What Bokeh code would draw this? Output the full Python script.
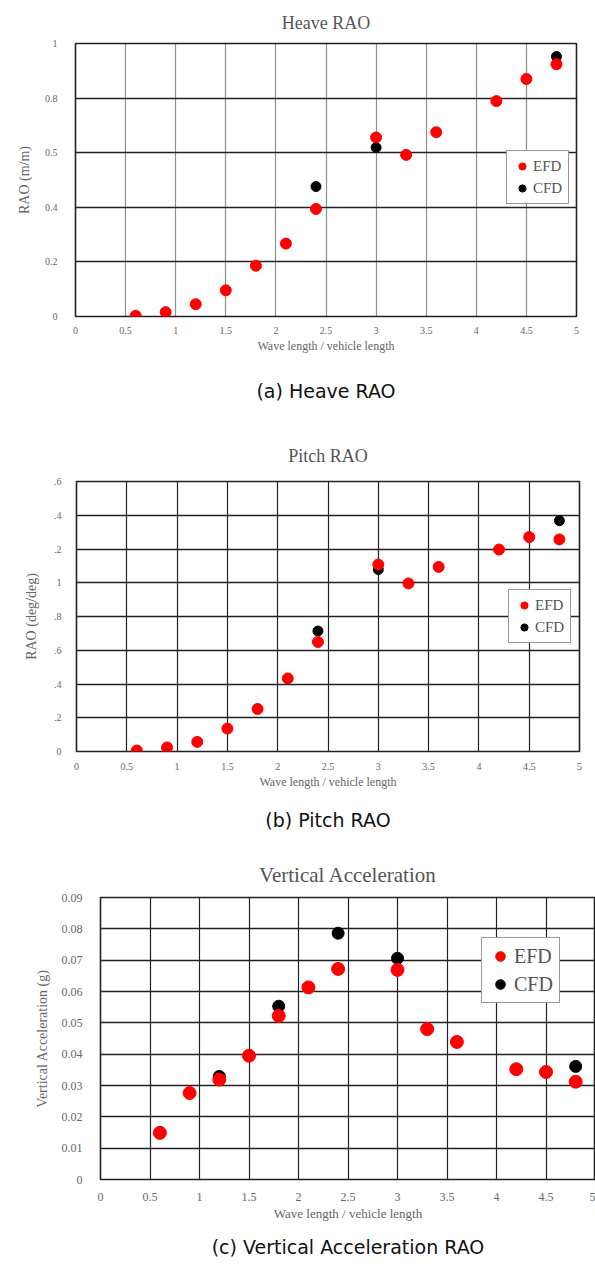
from bokeh.plotting import figure
from bokeh.models import FixedTicker, Legend, LegendItem, Title, Range1d
from bokeh.embed import file_html
from bokeh.resources import INLINE

# ---------------- data ----------------
wave_ratio = [0.6, 0.9, 1.2, 1.5, 1.8, 2.1, 2.4, 3.0, 3.3, 3.6, 4.2, 4.5, 4.8]

heave_efd = [0.003, 0.016, 0.045, 0.096, 0.186, 0.267, 0.394, 0.656, 0.592, 0.675, 0.789, 0.870, 0.924]
heave_cfd_ratio = [2.4, 3.0, 4.8]
heave_cfd = [0.476, 0.619, 0.952]

pitch_efd = [0.006, 0.024, 0.057, 0.136, 0.252, 0.433, 0.649, 1.108, 0.996, 1.094, 1.197, 1.271, 1.257]
pitch_cfd_ratio = [2.4, 3.0, 4.8]
pitch_cfd = [0.714, 1.078, 1.368]

accel_efd = [0.0149, 0.0276, 0.0319, 0.0395, 0.0522, 0.0613, 0.0672, 0.0669, 0.0480, 0.0439, 0.0352, 0.0343, 0.0312]
accel_cfd_ratio = [1.2, 1.8, 2.4, 3.0, 4.8]
accel_cfd = [0.0329, 0.0553, 0.0786, 0.0706, 0.0361]

x_ticks = [0, 0.5, 1, 1.5, 2, 2.5, 3, 3.5, 4, 4.5, 5]
x_tick_labels = ["0", "0.5", "1", "1.5", "2", "2.5", "3", "3.5", "4", "4.5", "5"]

heave_y_ticks = [0, 0.2, 0.4, 0.6, 0.8, 1.0]
heave_y_labels = ["0", "0.2", "0.4", "0.5", "0.8", "1"]

pitch_y_ticks = [0, 0.2, 0.4, 0.6, 0.8, 1.0, 1.2, 1.4, 1.6]
pitch_y_labels = ["0", ".2", ".4", ".6", ".8", "1", ".2", ".4", ".6"]

accel_y_ticks = [0, 0.01, 0.02, 0.03, 0.04, 0.05, 0.06, 0.07, 0.08, 0.09]
accel_y_labels = ["0", "0.01", "0.02", "0.03", "0.04", "0.05", "0.06", "0.07", "0.08", "0.09"]

series_names = ["EFD", "CFD"]
x_label = "Wave length / vehicle length"

SERIF = "Liberation Serif"
SANS = "DejaVu Sans"
GREY = "#666666"


def panel(title, caption, ylabel, y_ticks, y_labels, y_max, efd, cfd_x, cfd,
          height, b_top, b_bottom, b_left, b_right, title_size, tick_size,
          xlab_size, ylab_size, marker, legend_size, legend_loc, legend_glyph,
          vgrid_dash, title_off, cap_off, cap_standoff, title_standoff,
          ylab_standoff, ytick_standoff, xtick_standoff):
    p = figure(width=595, height=height, output_backend="svg", toolbar_location=None,
               x_range=Range1d(0, 5), y_range=Range1d(0, y_max),
               min_border_top=b_top, min_border_bottom=b_bottom,
               min_border_left=b_left, min_border_right=b_right,
               background_fill_color="white", border_fill_color="white")
    p.title.text = title
    p.title.align = "center"
    p.title.text_font = SERIF
    p.title.text_font_style = "normal"
    p.title.text_font_size = title_size
    p.title.text_color = "#555555"
    p.title.offset = title_off
    p.title.standoff = title_standoff

    p.xaxis.ticker = FixedTicker(ticks=x_ticks)
    p.xaxis.major_label_overrides = dict(zip(x_ticks, x_tick_labels))
    p.yaxis.ticker = FixedTicker(ticks=y_ticks)
    p.yaxis.major_label_overrides = dict(zip(y_ticks, y_labels))
    for ax in (p.xaxis[0], p.yaxis[0]):
        ax.axis_line_color = None
        ax.major_tick_line_color = None
        ax.minor_tick_line_color = None
        ax.major_label_text_font = SERIF
        ax.major_label_text_font_size = tick_size
        ax.major_label_text_color = GREY
        ax.axis_label_text_font = SERIF
        ax.axis_label_text_font_style = "normal"
        ax.axis_label_text_color = GREY
    p.xaxis.axis_label = x_label
    p.xaxis.axis_label_text_font_size = xlab_size
    p.xaxis.axis_label_standoff = 2
    p.xaxis.major_label_standoff = xtick_standoff
    p.yaxis.axis_label = ylabel
    p.yaxis.axis_label_text_font_size = ylab_size
    p.yaxis.axis_label_standoff = ylab_standoff
    p.yaxis.major_label_standoff = ytick_standoff

    p.xgrid.ticker = FixedTicker(ticks=x_ticks)
    p.ygrid.ticker = FixedTicker(ticks=y_ticks)
    p.xgrid.grid_line_color = "#222222"
    p.xgrid.grid_line_width = 1.2
    p.xgrid.grid_line_alpha = 1
    if vgrid_dash:
        p.xgrid.grid_line_dash = vgrid_dash
    p.ygrid.grid_line_color = "#222222"
    p.ygrid.grid_line_width = 1.4
    p.ygrid.grid_line_alpha = 1
    p.outline_line_color = "#222222"
    p.outline_line_width = 1.6
    p.outline_line_alpha = 1

    r_cfd = p.scatter(cfd_x, cfd, marker="circle", size=marker - 1, fill_color="black",
                      line_color="black")
    r_efd = p.scatter(wave_ratio, efd, marker="circle", size=marker, fill_color="red",
                      line_color="red")

    legend = Legend(items=[LegendItem(label=series_names[0], renderers=[r_efd]),
                           LegendItem(label=series_names[1], renderers=[r_cfd])],
                    location=legend_loc)
    legend.label_text_font = SERIF
    legend.label_text_font_size = legend_size
    legend.label_text_color = "#555555"
    legend.border_line_color = "#333333"
    legend.border_line_width = 1.2
    legend.background_fill_alpha = 1
    legend.glyph_width = legend_glyph
    legend.glyph_height = legend_glyph
    legend.label_standoff = 2
    legend.padding = 6
    legend.spacing = 4
    legend.margin = 0
    p.add_layout(legend)

    cap = Title(text=caption, align="center", text_font=SANS, text_font_style="normal",
                text_font_size="19px", text_color="#111111", offset=cap_off,
                standoff=cap_standoff)
    p.add_layout(cap, "below")
    return p


p1 = panel("Heave RAO", "(a) Heave RAO", "RAO (m/m)", heave_y_ticks, heave_y_labels, 1.0,
           heave_efd, heave_cfd_ratio, heave_cfd,
           height=425, b_top=43, b_bottom=109, b_left=75, b_right=19,
           title_size="18px", tick_size="10px", xlab_size="12px", ylab_size="14px",
           marker=11, legend_size="15px", legend_loc=(431, 112), legend_glyph=18,
           vgrid_dash="1 1", title_off=-7, cap_off=-11, cap_standoff=44,
           title_standoff=21, ylab_standoff=10, ytick_standoff=12, xtick_standoff=4)

p2 = panel("Pitch RAO", "(b) Pitch RAO", "RAO (deg/deg)", pitch_y_ticks, pitch_y_labels, 1.6,
           pitch_efd, pitch_cfd_ratio, pitch_cfd,
           height=420, b_top=56, b_bottom=93, b_left=76, b_right=16,
           title_size="18px", tick_size="10px", xlab_size="12px", ylab_size="14px",
           marker=11, legend_size="15px", legend_loc=(432, 108), legend_glyph=18,
           vgrid_dash=None, title_off=-10, cap_off=-12, cap_standoff=30,
           title_standoff=31, ylab_standoff=12, ytick_standoff=9, xtick_standoff=5)

p3 = panel("Vertical Acceleration", "(c) Vertical Acceleration RAO", "Vertical Acceleration (g)",
           accel_y_ticks, accel_y_labels, 0.09,
           accel_efd, accel_cfd_ratio, accel_cfd,
           height=422, b_top=52, b_bottom=86, b_left=100, b_right=0,
           title_size="21px", tick_size="12px", xlab_size="13px", ylab_size="14px",
           marker=13, legend_size="20px", legend_loc=(381, 176), legend_glyph=24,
           vgrid_dash=None, title_off=-36, cap_off=-33, cap_standoff=20,
           title_standoff=22, ylab_standoff=9, ytick_standoff=12, xtick_standoff=7)

open("out.html", "w").write(file_html([p1, p2, p3], INLINE))
